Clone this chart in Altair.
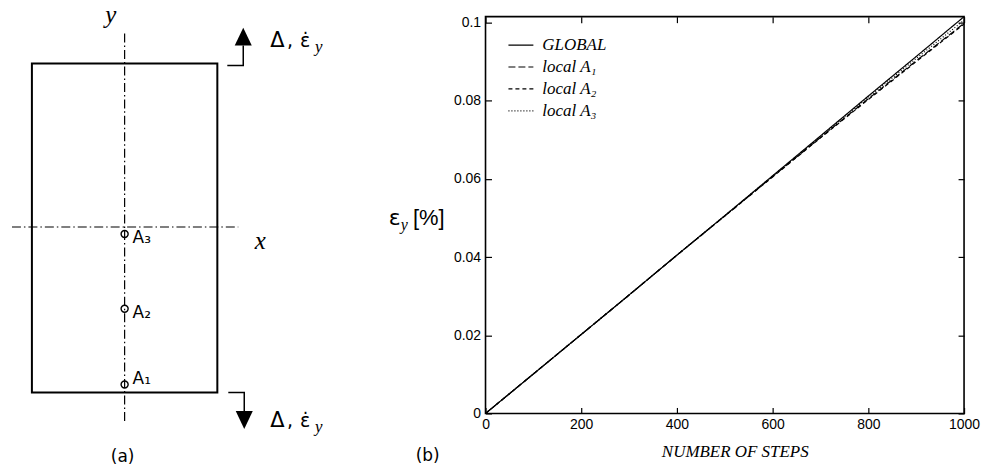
import altair as alt
import pandas as pd

# ---------------- panel (b): strain vs number of steps ----------------
STEPS = [0, 100, 200, 300, 400, 500, 600, 700, 800, 900, 1000]
GLOBAL = [0.0, 0.0101, 0.0202, 0.0303, 0.0405, 0.0506, 0.0608, 0.0710, 0.0812, 0.0913, 0.1015]
LOCAL_A1 = [0.0, 0.0101, 0.0202, 0.0303, 0.0405, 0.0505, 0.0606, 0.0706, 0.0805, 0.0902, 0.0998]
LOCAL_A2 = [0.0, 0.0101, 0.0202, 0.0303, 0.0405, 0.0505, 0.0605, 0.0705, 0.0803, 0.0900, 0.0996]
LOCAL_A3 = [0.0, 0.0101, 0.0202, 0.0303, 0.0405, 0.0506, 0.0607, 0.0708, 0.0809, 0.0908, 0.1006]
SERIES = ["GLOBAL", "local A\u2081", "local A\u2082", "local A\u2083"]
X_TICKS = [0, 200, 400, 600, 800, 1000]
Y_TICKS = [0, 0.02, 0.04, 0.06, 0.08, 0.1]
Y_TITLE_PARTS = ["\u03b5", "y", "[%]"]
PANEL_LABELS = ["(a)", "(b)"]

rows = []
for name, vals in zip(SERIES, [GLOBAL, LOCAL_A1, LOCAL_A2, LOCAL_A3]):
    for s, v in zip(STEPS, vals):
        rows.append({"series": name, "step": s, "eps": v})
df = pd.DataFrame(rows)

# ---------------- panel (a): specimen diagram geometry (diagram units) ----------------
RECT_X = [31, 217]
RECT_Y = [61, 391]
Y_AXIS_LINE = {"x": [124], "y": [31], "y2": [420]}
X_AXIS_LINE = {"y": [225], "x": [11], "x2": [238]}
POINT_NAMES = ["A\u2081", "A\u2082", "A\u2083"]
POINT_X = [124, 124, 124]
POINT_Y = [383, 307, 232]
POINT_LABEL_Y = [377, 311, 236]
ARROW_ID = ["top", "top", "top", "bottom", "bottom", "bottom"]
ARROW_ORD = [0, 1, 2, 0, 1, 2]
ARROW_X = [227, 243, 243, 228, 244, 244]
ARROW_Y = [63, 63, 43, 391, 391, 410]
HEAD_UP = {"x": [243], "y": [34]}
HEAD_DOWN = {"x": [244], "y": [418.5]}
AXIS_NAMES = {"t": ["y", "x"], "x": [110, 260], "y": [20, 247]}
LOAD_DELTA = {"t": ["\u0394", "\u0394"], "x": [270, 270], "y": [44, 426]}
LOAD_TEXT = {"t": [",", "\u03b5\u0307", ",", "\u03b5\u0307"],
             "x": [287, 300, 287, 300],
             "y": [44, 44, 426, 426]}
LOAD_SUB = {"t": ["y", "y"], "x": [315, 315], "y": [49, 431]}

# ---------------- left chart ----------------
xd = alt.Scale(domain=[0, 340], nice=False, zero=False)
yd = alt.Scale(domain=[14, 412], reverse=True, nice=False, zero=False)


def X(f):
    return alt.X(f, scale=xd, axis=None)


def Y(f):
    return alt.Y(f, scale=yd, axis=None)


rect = alt.Chart(pd.DataFrame({"x": [RECT_X[0]], "x2": [RECT_X[1]],
                               "y": [RECT_Y[0]], "y2": [RECT_Y[1]]})).mark_rect(
    fill="transparent", stroke="black", strokeWidth=2
).encode(x=X("x:Q"), x2="x2:Q", y=Y("y:Q"), y2="y2:Q")

dashdot = [9, 3, 1.5, 3]
vline = alt.Chart(pd.DataFrame(Y_AXIS_LINE)).mark_rule(
    color="black", strokeWidth=1.2, strokeDash=dashdot
).encode(x=X("x:Q"), y=Y("y:Q"), y2="y2:Q")
hline = alt.Chart(pd.DataFrame(X_AXIS_LINE)).mark_rule(
    color="black", strokeWidth=1.2, strokeDash=dashdot
).encode(y=Y("y:Q"), x=X("x:Q"), x2="x2:Q")

pts_df = pd.DataFrame({"name": POINT_NAMES, "x": POINT_X, "y": POINT_Y, "ly": POINT_LABEL_Y})
circles = alt.Chart(pts_df).mark_point(
    shape="circle", filled=False, color="black", strokeWidth=1.4, size=50, opacity=1
).encode(x=X("x:Q"), y=Y("y:Q"))
pt_labels = alt.Chart(pts_df).mark_text(
    align="left", baseline="middle", dx=8, font="DejaVu Sans", fontSize=17, color="black"
).encode(x=X("x:Q"), y=Y("ly:Q"), text="name:N")

arrows = alt.Chart(pd.DataFrame({"id": ARROW_ID, "o": ARROW_ORD, "x": ARROW_X, "y": ARROW_Y})).mark_line(
    color="black", strokeWidth=1.5
).encode(x=X("x:Q"), y=Y("y:Q"), detail="id:N", order="o:Q")
head_up = alt.Chart(pd.DataFrame(HEAD_UP)).mark_point(
    shape="M0,-1L0.95,1L-0.95,1Z", filled=True, color="black", size=324, opacity=1, strokeWidth=0
).encode(x=X("x:Q"), y=Y("y:Q"))
head_down = alt.Chart(pd.DataFrame(HEAD_DOWN)).mark_point(
    shape="M0,1L0.95,-1L-0.95,-1Z", filled=True, color="black", size=324, opacity=1, strokeWidth=0
).encode(x=X("x:Q"), y=Y("y:Q"))

axis_names = alt.Chart(pd.DataFrame(AXIS_NAMES)).mark_text(
    align="center", baseline="alphabetic", font="Liberation Serif", fontStyle="italic",
    fontSize=25, color="black"
).encode(x=X("x:Q"), y=Y("y:Q"), text="t:N")
load_delta = alt.Chart(pd.DataFrame(LOAD_DELTA)).mark_text(
    align="left", baseline="alphabetic", font="DejaVu Sans", fontSize=21, color="black"
).encode(x=X("x:Q"), y=Y("y:Q"), text="t:N")
load_text = alt.Chart(pd.DataFrame(LOAD_TEXT)).mark_text(
    align="left", baseline="alphabetic", font="DejaVu Sans", fontSize=19, color="black"
).encode(x=X("x:Q"), y=Y("y:Q"), text="t:N")
load_sub = alt.Chart(pd.DataFrame(LOAD_SUB)).mark_text(
    align="left", baseline="alphabetic", font="Liberation Serif", fontStyle="italic",
    fontSize=17, color="black"
).encode(x=X("x:Q"), y=Y("y:Q"), text="t:N")
label_a = alt.Chart(pd.DataFrame({"t": [PANEL_LABELS[0]], "x": [122], "y": [456]})).mark_text(
    align="center", baseline="middle", font="DejaVu Sans", fontSize=17, color="black"
).encode(x=X("x:Q"), y=Y("y:Q"), text="t:N")

left = alt.layer(rect, vline, hline, arrows, head_up, head_down, circles, pt_labels,
                 axis_names, load_delta, load_text, load_sub, label_a).properties(
    width=340, height=398, view=alt.ViewBackground(stroke="transparent"))

# ---------------- right chart ----------------
xs = alt.Scale(domain=[0, 1000], nice=False, zero=False)
ys = alt.Scale(domain=[0, 0.1015], nice=False, zero=False)
TS = 6

ax_bottom = alt.Axis(orient="bottom", values=X_TICKS, format="d", offset=-TS, tickSize=TS, domain=False,
                     grid=False, labelPadding=4, labelFont="Liberation Sans", labelFontSize=14,
                     labelColor="black", tickColor="black", tickWidth=1.2, labelFlush=False,
                     title="NUMBER OF STEPS", titleFont="Liberation Serif", titleFontStyle="italic",
                     titleFontWeight="normal", titleFontSize=17, titleColor="black",
                     titlePadding=12, titleX=250)
ax_left = alt.Axis(orient="left", values=Y_TICKS, format="~g", offset=-TS, tickSize=TS, domain=False,
                   grid=False, labelPadding=5, labelFont="Liberation Sans", labelFontSize=14,
                   labelColor="black", tickColor="black", tickWidth=1.2, labelFlush=False, title=None)
ax_top = alt.Axis(orient="top", values=X_TICKS, offset=-TS, tickSize=TS, domain=False, grid=False,
                  labels=False, tickColor="black", tickWidth=1.2, title=None)
ax_right = alt.Axis(orient="right", values=Y_TICKS, offset=-TS, tickSize=TS, domain=False, grid=False,
                    labels=False, tickColor="black", tickWidth=1.2, title=None)

lines = alt.Chart(df).mark_line(color="black", strokeWidth=1.2).encode(
    x=alt.X("step:Q", scale=xs, axis=ax_bottom),
    y=alt.Y("eps:Q", scale=ys, axis=ax_left),
    strokeDash=alt.StrokeDash(
        "series:N",
        scale=alt.Scale(domain=SERIES, range=[[1, 0], [7, 3], [4, 3], [1, 2]]),
        legend=alt.Legend(title=None, orient="none", legendX=508, legendY=15, symbolType="stroke",
                          symbolSize=625, symbolStrokeWidth=1.2, symbolStrokeColor="black",
                          labelFont="Liberation Serif", labelFontStyle="italic", labelFontSize=17,
                          labelColor="black", labelOffset=8, rowPadding=0, padding=0),
    ),
    order="step:Q",
)
ticks = alt.Chart(df).mark_line(opacity=0).encode(
    x=alt.X("step:Q", scale=xs, axis=ax_top),
    y=alt.Y("eps:Q", scale=ys, axis=ax_right),
    detail="series:N",
)

eps_t = alt.Chart(pd.DataFrame({"t": [Y_TITLE_PARTS[0]]})).mark_text(
    align="left", baseline="alphabetic", font="DejaVu Sans", fontSize=22, color="black"
).encode(x=alt.value(-97), y=alt.value(209), text="t:N")
sub_t = alt.Chart(pd.DataFrame({"t": [Y_TITLE_PARTS[1]]})).mark_text(
    align="left", baseline="alphabetic", font="Liberation Serif", fontStyle="italic", fontSize=16,
    color="black"
).encode(x=alt.value(-85), y=alt.value(214), text="t:N")
pct_t = alt.Chart(pd.DataFrame({"t": [Y_TITLE_PARTS[2]]})).mark_text(
    align="right", baseline="alphabetic", font="Liberation Sans", fontSize=22, color="black"
).encode(x=alt.value(-41), y=alt.value(209), text="t:N")
label_b = alt.Chart(pd.DataFrame({"t": [PANEL_LABELS[1]]})).mark_text(
    align="center", baseline="middle", font="DejaVu Sans", fontSize=17, color="black"
).encode(x=alt.value(-58), y=alt.value(441), text="t:N")

right = alt.layer(lines, ticks, eps_t, sub_t, pct_t, label_b).resolve_axis(
    x="independent", y="independent"
).properties(width=480, height=398, view=alt.ViewBackground(stroke="black", strokeWidth=1.6))

chart = alt.hconcat(left, right, spacing=146, bounds="flush",
                    padding={"left": 0, "top": 1, "right": 0, "bottom": 0}).configure(background="white")

chart.save("out.html", embed_options={"renderer": "svg", "actions": False})
